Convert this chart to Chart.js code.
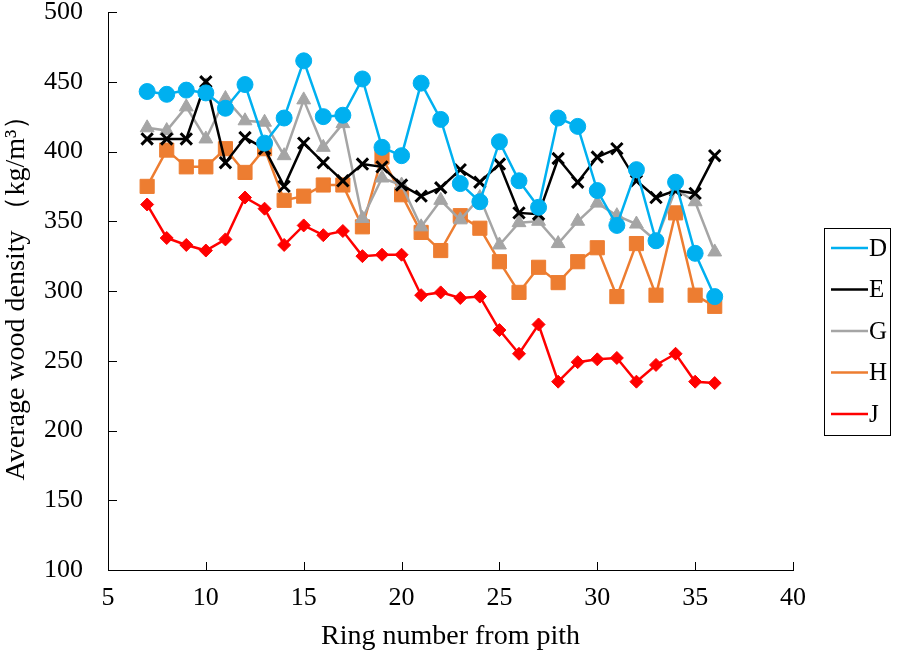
<!DOCTYPE html>
<html>
<head>
<meta charset="utf-8">
<script src="https://cdn.jsdelivr.net/npm/chart.js@4/dist/chart.umd.min.js"></script>
<style>
  html, body { margin: 0; padding: 0; background: #fff; }
  #wrap { width: 898px; height: 653px; }
</style>
</head>
<body>
<div id="wrap"><canvas id="chart" width="898" height="653"></canvas></div>
<script>
// Ring numbers (x) and wood density per tree (y, kg/m3)
const rings = [7, 8, 9, 10, 11, 12, 13, 14, 15, 16, 17, 18, 19, 20, 21, 22,
               23, 24, 25, 26, 27, 28, 29, 30, 31, 32, 33, 34, 35, 36];

const seriesD = [443, 441, 444, 442, 431, 448, 406, 424, 465, 425, 426, 452, 403, 397, 449, 423,
                 377, 364, 407, 379, 360, 424, 418, 372, 347, 387, 336, 378, 327, 296];
const seriesE = [409, 409, 409, 450, 392, 410, 402, 375, 406, 392, 379, 391, 389, 376, 368, 374,
                 387, 378, 391, 356, 355, 395, 378, 396, 402, 379, 367, 372, 370, 397];
const seriesG = [417, 415, 432, 409, 438, 422, 421, 397, 437, 403, 420, 352, 381, 376, 346, 365,
                 351, 367, 333, 349, 350, 334, 350, 363, 354, 348, 336, 373, 364, 328];
const seriesH = [375, 401, 389, 389, 402, 385, 402, 365, 368, 376, 376, 346, 396, 369, 342, 329,
                 354, 345, 321, 299, 317, 306, 321, 331, 296, 334, 297, 356, 297, 289];
const seriesJ = [362, 338, 333, 329, 337, 367, 359, 333, 347, 340, 343, 325, 326, 326, 297, 299,
                 295, 296, 272, 255, 276, 235, 249, 251, 252, 235, 247, 255, 235, 234];

const xTicks = [5, 10, 15, 20, 25, 30, 35, 40];
const yTicks = [100, 150, 200, 250, 300, 350, 400, 450, 500];

const FONT = "'Liberation Serif', 'Times New Roman', serif";

function toPoints(vals) {
  return vals.map((v, i) => ({ x: rings[i], y: v }));
}

const defs = [
  { label: 'D', data: seriesD, color: '#00B0F0', style: 'circle', radius: 8, bw: 1 },
  { label: 'E', data: seriesE, color: '#000000', style: 'crossRot', radius: 8, bw: 3 },
  { label: 'G', data: seriesG, color: '#A5A5A5', style: 'triangle', radius: 8, bw: 1 },
  { label: 'H', data: seriesH, color: '#ED7D31', style: 'rect', radius: 10, bw: 1 },
  { label: 'J', data: seriesJ, color: '#FF0000', style: 'rectRot', radius: 6.5, bw: 1 }
];

const datasets = defs.map(d => ({
  label: d.label,
  data: toPoints(d.data),
  borderColor: d.color,
  backgroundColor: d.color,
  borderWidth: 2.5,
  pointStyle: d.style,
  pointRadius: d.radius,
  pointBorderWidth: d.bw,
  pointBorderColor: d.color,
  pointBackgroundColor: d.color,
  tension: 0
}));

// inward tick marks on both axes
const innerTicks = {
  id: 'innerTicks',
  afterDraw(chart) {
    const { ctx, chartArea, scales } = chart;
    ctx.save();
    ctx.strokeStyle = '#000';
    ctx.lineWidth = 1;
    yTicks.forEach(v => {
      const y = Math.round(scales.y.getPixelForValue(v)) + 0.5;
      ctx.beginPath();
      ctx.moveTo(chartArea.left, y);
      ctx.lineTo(chartArea.left + 9, y);
      ctx.stroke();
    });
    xTicks.forEach(v => {
      const x = Math.round(scales.x.getPixelForValue(v)) + 0.5;
      ctx.beginPath();
      ctx.moveTo(x, chartArea.bottom);
      ctx.lineTo(x, chartArea.bottom - 8);
      ctx.stroke();
    });
    ctx.restore();
  }
};

// boxed legend on the right
const boxLegend = {
  id: 'boxLegend',
  afterDraw(chart) {
    const ctx = chart.ctx;
    const left = 824, top = 228, w = 66, h = 207;
    ctx.save();
    ctx.fillStyle = '#fff';
    ctx.fillRect(left, top, w, h);
    ctx.strokeStyle = '#000';
    ctx.lineWidth = 1;
    ctx.strokeRect(left + 0.5, top + 0.5, w, h);
    ctx.font = '25px ' + FONT;
    ctx.textBaseline = 'middle';
    ctx.textAlign = 'left';
    defs.forEach((d, i) => {
      const y = top + 20 + i * 41.5;
      ctx.strokeStyle = d.color;
      ctx.lineWidth = 2.5;
      ctx.beginPath();
      ctx.moveTo(831, y);
      ctx.lineTo(868, y);
      ctx.stroke();
      ctx.fillStyle = d.color;
      ctx.lineWidth = Math.min(d.bw, 2.5);
      Chart.helpers.drawPoint(ctx, {
        pointStyle: d.style,
        rotation: 0,
        borderWidth: d.bw
      }, 849, y, d.radius * 0.7);
      ctx.fillStyle = '#000';
      ctx.fillText(d.label, 869, y + 1);
    });
    ctx.restore();
  }
};

new Chart(document.getElementById('chart'), {
  type: 'line',
  data: { datasets },
  options: {
    responsive: false,
    animation: false,
    layout: { padding: { left: 0, right: 105, top: 12, bottom: 0 } },
    plugins: {
      legend: { display: false },
      tooltip: { enabled: false }
    },
    scales: {
      x: {
        type: 'linear',
        min: 5,
        max: 40,
        afterFit: s => { s.height = 83; s.paddingLeft = 0; s.paddingRight = 0; },
        afterBuildTicks: s => { s.ticks = xTicks.map(v => ({ value: v })); },
        grid: { display: false },
        border: { display: true, color: '#000', width: 1 },
        ticks: { color: '#000', font: { family: FONT, size: 26 }, padding: 5, maxRotation: 0 },
        title: {
          display: true,
          text: 'Ring number from pith',
          color: '#000',
          font: { family: FONT, size: 28 },
          padding: { top: 0, bottom: 0 }
        }
      },
      y: {
        min: 100,
        max: 500,
        afterFit: s => { s.width = 108; s.paddingTop = 0; s.paddingBottom = 0; },
        afterBuildTicks: s => { s.ticks = yTicks.map(v => ({ value: v })); },
        grid: { display: false },
        border: { display: true, color: '#000', width: 1 },
        ticks: { color: '#000', font: { family: FONT, size: 26 }, padding: 17 },
        title: {
          display: true,
          text: 'Average wood density （kg/m³）',
          color: '#000',
          font: { family: FONT, size: 28 },
          padding: { top: 0, bottom: 0 }
        }
      }
    }
  },
  plugins: [innerTicks, boxLegend]
});
</script>
</body>
</html>
